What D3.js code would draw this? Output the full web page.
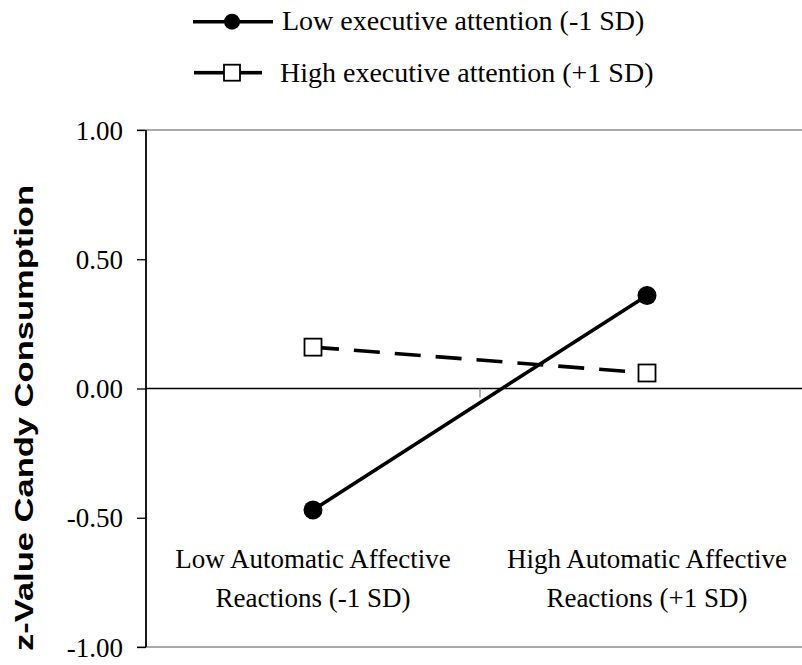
<!DOCTYPE html>
<html>
<head>
<meta charset="utf-8">
<script src="https://cdn.jsdelivr.net/npm/d3@7"></script>
<style>
  html, body { margin: 0; padding: 0; background: #fff; }
  svg { display: block; }
</style>
</head>
<body>
<script>
// ---- data ----
const categories = ["Low Automatic Affective|Reactions (-1 SD)", "High Automatic Affective|Reactions (+1 SD)"];
const seriesNames = ["Low executive attention (-1 SD)", "High executive attention (+1 SD)"];
const lowExecValues = [-0.47, 0.36];
const highExecValues = [0.16, 0.06];
const yTicks = [-1.00, -0.50, 0.00, 0.50, 1.00];
const yTitle = "z-Value Candy Consumption";

const W = 802, H = 665;
const svg = d3.select("body").append("svg").attr("width", W).attr("height", H);

const x = d3.scaleBand().domain(categories).range([146, 814]).padding(0);
const y = d3.scaleLinear().domain([-1, 1]).range([647, 130]);
const cx = d => x(d) + x.bandwidth() / 2;

const serif = "'Liberation Serif', 'Times New Roman', serif";
const fmt = d => d3.format(".2f")(d).replace("\u2212", "-");

// top and bottom gray border lines
[1, -1].forEach(v => {
  svg.append("line")
    .attr("x1", 137).attr("x2", W)
    .attr("y1", y(v)).attr("y2", y(v))
    .attr("stroke", "#8c8c8c").attr("stroke-width", 1.6);
});

// y axis
const yAxis = d3.axisLeft(y).tickValues(yTicks).tickFormat(fmt).tickSize(9).tickPadding(14);
const gy = svg.append("g").attr("transform", "translate(146,0)").call(yAxis);
gy.select(".domain").remove();
gy.selectAll(".tick line").attr("stroke", "#000").attr("stroke-width", 1.3);
gy.selectAll(".tick text")
  .attr("font-family", serif).attr("font-size", 27).attr("fill", "#000")
  .attr("dy", "0.34em");
svg.append("line").attr("x1", 146).attr("x2", 146).attr("y1", y(1)).attr("y2", y(-1))
  .attr("stroke", "#000").attr("stroke-width", 1.8);

// x axis at zero
svg.append("line").attr("x1", 146).attr("x2", W).attr("y1", y(0)).attr("y2", y(0))
  .attr("stroke", "#000").attr("stroke-width", 1.4);
categories.slice(1).forEach(c => {
  svg.append("line").attr("x1", x(c)).attr("x2", x(c)).attr("y1", y(0)).attr("y2", y(0) + 9)
    .attr("stroke", "#888").attr("stroke-width", 1.2);
});

// category labels
categories.forEach(c => {
  const t = svg.append("text").attr("text-anchor", "middle")
    .attr("font-family", serif).attr("font-size", 27).attr("fill", "#000");
  c.split("|").forEach((ln, i) => {
    t.append("tspan").attr("x", cx(c)).attr("y", 568 + i * 39).text(ln);
  });
});

// y title
svg.append("text")
  .attr("transform", "translate(33,418) rotate(-90)")
  .attr("text-anchor", "middle")
  .attr("font-family", "'Liberation Sans', Arial, sans-serif")
  .attr("font-weight", "bold").attr("font-size", 25)
  .attr("textLength", 466).attr("lengthAdjust", "spacingAndGlyphs")
  .text(yTitle);

// series
const line = d3.line().x((d, i) => cx(categories[i])).y(d => y(d));
svg.append("path").datum(highExecValues).attr("d", line)
  .attr("fill", "none").attr("stroke", "#000").attr("stroke-width", 3.6)
  .attr("stroke-dasharray", "26,15");
svg.append("path").datum(lowExecValues).attr("d", line)
  .attr("fill", "none").attr("stroke", "#000").attr("stroke-width", 3.6);

svg.selectAll(".sq").data(highExecValues).enter().append("rect")
  .attr("x", (d, i) => cx(categories[i]) - 8.5).attr("y", d => y(d) - 8.5)
  .attr("width", 17).attr("height", 17)
  .attr("fill", "#fff").attr("stroke", "#000").attr("stroke-width", 1.8);
svg.selectAll(".ci").data(lowExecValues).enter().append("circle")
  .attr("cx", (d, i) => cx(categories[i])).attr("cy", d => y(d)).attr("r", 9.5)
  .attr("fill", "#000");

// legend
const lg = svg.append("g");
lg.append("line").attr("x1", 193).attr("x2", 273).attr("y1", 21.7).attr("y2", 21.7)
  .attr("stroke", "#000").attr("stroke-width", 3.6);
lg.append("circle").attr("cx", 232).attr("cy", 21.7).attr("r", 8).attr("fill", "#000");
lg.append("text").attr("x", 282).attr("y", 29.5)
  .attr("font-family", serif).attr("font-size", 28).attr("fill", "#000").text(seriesNames[0]);

lg.append("line").attr("x1", 194).attr("x2", 224).attr("y1", 72.7).attr("y2", 72.7)
  .attr("stroke", "#000").attr("stroke-width", 3.6);
lg.append("line").attr("x1", 240).attr("x2", 262).attr("y1", 72.7).attr("y2", 72.7)
  .attr("stroke", "#000").attr("stroke-width", 3.6);
lg.append("rect").attr("x", 224).attr("y", 64.7).attr("width", 16).attr("height", 16)
  .attr("fill", "#fff").attr("stroke", "#000").attr("stroke-width", 1.8);
lg.append("text").attr("x", 280).attr("y", 81.5)
  .attr("font-family", serif).attr("font-size", 28).attr("fill", "#000").text(seriesNames[1]);
</script>
</body>
</html>
